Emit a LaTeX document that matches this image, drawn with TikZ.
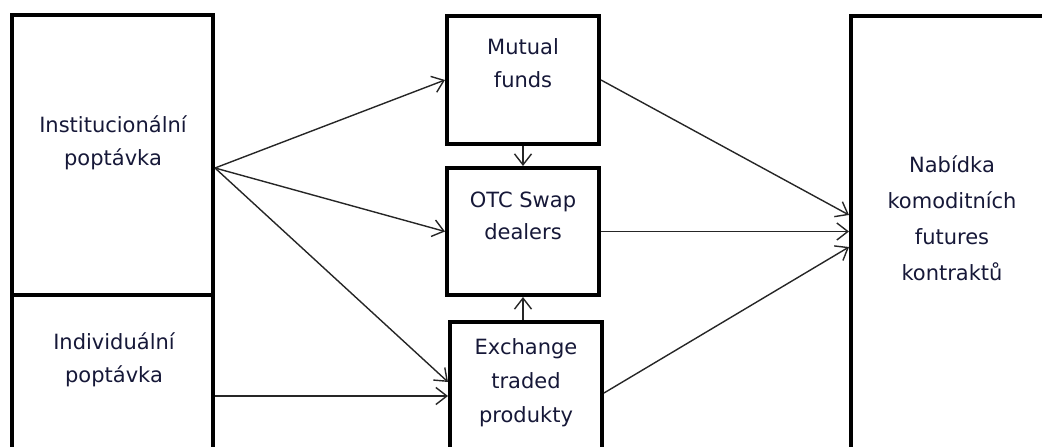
\documentclass[tikz,border=0pt]{standalone}
\usepackage{fontspec}
\setmainfont{DejaVu Sans}
\usetikzlibrary{arrows.meta}
\definecolor{txt}{RGB}{22,24,56}
\begin{document}
\begin{tikzpicture}[x=1pt,y=1pt,
  box/.style={draw=black, line width=4pt, inner sep=0pt, rectangle},
  lbl/.style={anchor=base, inner sep=0pt, text=txt, font=\fontsize{21}{33}\selectfont},
  arr/.style={draw=black!85, line width=1.4pt, -{Straight Barb[length=11pt,width=17pt]}}]
\useasboundingbox (0,0) rectangle (1042,447);
\clip (0,0) rectangle (1042,447);
% boxes
\node[box, minimum width=201pt, minimum height=280pt] (inst) at (112.5,292) {};
\node[box, minimum width=201pt, minimum height=175pt] (indiv) at (112.5,64.5) {};
\node[box, minimum width=152pt, minimum height=128pt] (mutual) at (523,367) {};
\node[box, minimum width=152pt, minimum height=127pt] (otc) at (523,215.5) {};
\node[box, minimum width=152pt, minimum height=148pt] (exch) at (526,51) {};
\node[box, minimum width=219pt, minimum height=454pt] (supply) at (960.5,204) {};
% labels
\node[lbl] (tinst) at (113,314) {\begin{tabular}[t]{@{}c@{}}Institucionální\\poptávka\end{tabular}};
\node[lbl] (tindiv) at (114,97) {\begin{tabular}[t]{@{}c@{}}Individuální\\poptávka\end{tabular}};
\node[lbl] (tmutual) at (523,392) {\begin{tabular}[t]{@{}c@{}}Mutual\\funds\end{tabular}};
\node[lbl, font=\fontsize{21}{32}\selectfont] (totc) at (523,239) {\begin{tabular}[t]{@{}c@{}}OTC Swap\\dealers\end{tabular}};
\node[lbl, font=\fontsize{21}{34}\selectfont] (texch) at (526,92) {\begin{tabular}[t]{@{}c@{}}Exchange\\traded\\produkty\end{tabular}};
\node[lbl, font=\fontsize{21}{36}\selectfont] (tsupply) at (952,274) {\begin{tabular}[t]{@{}c@{}}Nabídka\\komoditních\\futures\\kontraktů\end{tabular}};
% connectors
\coordinate (fan) at ([yshift=-13pt]inst.east);
\draw[arr] (fan) -- (mutual.west);
\draw[arr] (fan) -- (otc.west);
\draw[arr] (fan) -- ([yshift=14pt]exch.west);
\draw[arr] (exch.west -| indiv.east) -- (exch.west);
\draw[arr] (mutual.south) -- (otc.north);
\draw[arr] (otc.south |- exch.north) -- (otc.south);
\draw[arr] (mutual.east) -- ([yshift=28pt]supply.west);
\draw[arr] (otc.east) -- (otc.east -| supply.west);
\draw[arr] ([yshift=3pt]exch.east) -- ([yshift=-4pt]supply.west);
\end{tikzpicture}
\end{document}
